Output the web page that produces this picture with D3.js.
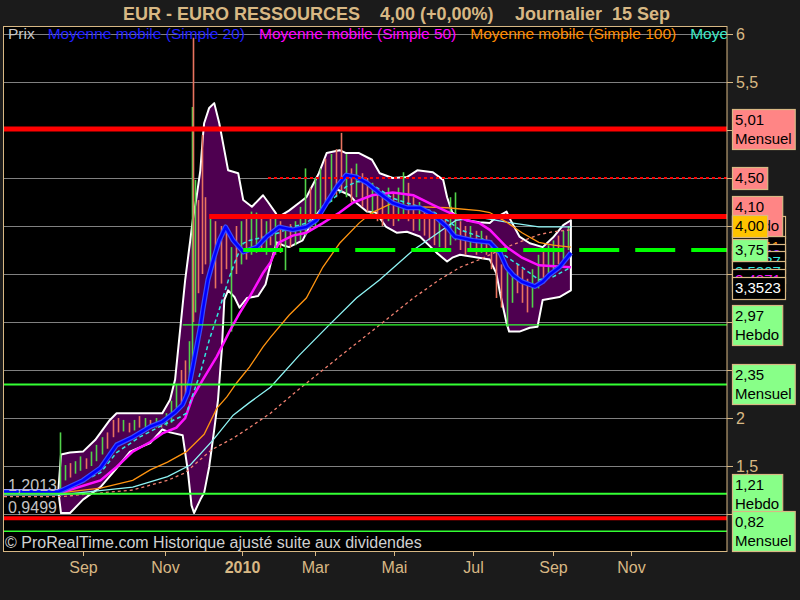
<!DOCTYPE html>
<html><head><meta charset="utf-8">
<script src="https://cdn.jsdelivr.net/npm/d3@7"></script>
<style>html,body{margin:0;padding:0;background:#1b1b1b;}svg{display:block;font-family:"Liberation Sans",Arial,sans-serif;}</style>
</head><body><svg id="c" width="800" height="600"></svg>
<script>
// ================= DATA =================
const titleParts = ["EUR - EURO RESSOURCES", "4,00 (+0,00%)", "Journalier  15 Sep"];
const legendNames = ["Prix","Moyenne mobile (Simple 20)","Moyenne mobile (Simple 50)","Moyenne mobile (Simple 100)","Moyenne mobile (Simple 200)"];
const monthLabels = ["Sep","Nov","2010","Mar","Mai","Jul","Sep","Nov"];
const monthDates = ["2009-09-01","2009-11-01","2010-01-01","2010-03-01","2010-05-01","2010-07-01","2010-09-01","2010-11-01"];
const priceTicks = [1,1.5,2,2.5,3,3.5,4,4.5,5,5.5,6];

const barDates = ["2009-08-14","2009-08-18","2009-08-22","2009-08-26","2009-08-30","2009-09-03","2009-09-07","2009-09-11","2009-09-15","2009-09-19","2009-09-23","2009-09-27","2009-10-01","2009-10-05","2009-10-09","2009-10-13","2009-10-17","2009-10-21","2009-10-25","2009-10-29","2009-11-02","2009-11-06","2009-11-10","2009-11-14","2009-11-17","2009-11-20","2009-11-22","2009-11-23","2009-11-25","2009-11-27","2009-11-30","2009-12-03","2009-12-07","2009-12-11","2009-12-15","2009-12-19","2009-12-23","2009-12-27","2009-12-31","2010-01-04","2010-01-08","2010-01-12","2010-01-16","2010-01-20","2010-01-24","2010-01-28","2010-02-01","2010-02-05","2010-02-09","2010-02-13","2010-02-17","2010-02-21","2010-02-25","2010-03-01","2010-03-05","2010-03-09","2010-03-13","2010-03-17","2010-03-21","2010-03-25","2010-03-29","2010-04-02","2010-04-06","2010-04-10","2010-04-14","2010-04-18","2010-04-22","2010-04-26","2010-04-30","2010-05-04","2010-05-08","2010-05-12","2010-05-16","2010-05-20","2010-05-24","2010-05-28","2010-06-01","2010-06-05","2010-06-09","2010-06-13","2010-06-17","2010-06-21","2010-06-25","2010-06-29","2010-07-03","2010-07-07","2010-07-11","2010-07-15","2010-07-19","2010-07-23","2010-07-27","2010-07-31","2010-08-04","2010-08-08","2010-08-12","2010-08-16","2010-08-20","2010-08-24","2010-08-28","2010-09-01","2010-09-05","2010-09-09","2010-09-13"];
const barHigh = [1.85,1.51,1.53,1.55,1.60,1.58,1.65,1.72,1.80,1.85,1.98,2.00,1.98,1.95,1.98,2.02,2.00,1.98,2.00,1.98,2.05,2.18,2.35,2.50,2.60,2.80,5.24,5.96,4.48,4.27,4.95,4.30,4.08,4.05,4.00,3.95,3.78,4.00,4.05,4.10,4.15,4.14,4.12,4.05,4.10,4.08,4.05,4.00,4.02,4.05,4.20,4.60,4.40,4.50,4.60,4.70,4.75,4.80,4.97,4.75,4.60,4.65,4.55,4.50,4.45,4.40,4.35,4.40,4.35,4.40,4.56,4.45,4.30,4.25,4.20,4.15,4.10,4.05,4.10,4.30,4.35,4.05,4.00,4.00,3.95,3.95,3.90,3.85,3.75,3.60,3.55,3.50,3.60,3.55,3.45,3.55,3.70,3.75,3.80,3.85,3.90,3.95,4.00];
const barLow = [1.23,1.35,1.38,1.42,1.45,1.47,1.50,1.55,1.62,1.68,1.80,1.85,1.86,1.85,1.87,1.90,1.90,1.89,1.90,1.90,1.92,1.95,2.10,2.15,2.20,2.40,2.60,3.00,3.10,3.30,3.50,3.60,3.60,3.35,3.40,3.55,2.90,3.50,3.60,3.65,3.70,3.72,3.75,3.70,3.80,3.70,3.72,3.54,3.78,3.80,3.85,3.90,3.95,4.00,4.10,4.20,4.25,4.30,4.35,4.30,4.25,4.30,4.20,4.15,4.10,4.05,4.00,4.05,4.00,4.05,4.10,4.05,3.95,3.95,3.90,3.85,3.80,3.78,3.75,3.80,3.85,3.75,3.70,3.75,3.70,3.72,3.70,3.55,3.25,3.15,2.95,3.20,3.30,3.20,3.10,3.15,3.35,3.45,3.50,3.55,3.60,3.65,3.75];
const barUp = [1,1,0,1,1,0,1,1,1,0,0,0,1,0,1,0,1,0,1,0,1,1,1,0,0,1,1,0,1,0,0,0,1,0,0,0,1,0,1,0,1,1,0,1,0,1,0,1,0,1,1,1,0,1,1,0,1,0,0,1,0,1,0,0,1,0,0,1,0,1,1,0,0,1,0,0,0,1,0,1,1,0,0,1,0,1,0,0,0,0,1,1,0,0,0,1,1,0,1,1,0,1,1];

const bandUpper = [["2009-07-02",1.25],["2009-08-13",1.25],["2009-08-15",1.62],["2009-08-22",1.64],["2009-09-01",1.65],["2009-09-10",1.77],["2009-09-21",1.98],["2009-09-26",2.05],["2009-10-13",2.05],["2009-10-30",2.05],["2009-11-05",2.19],["2009-11-09",2.40],["2009-11-13",2.92],["2009-11-17",3.44],["2009-11-21",3.85],["2009-11-23",4.06],["2009-11-26",4.30],["2009-11-29",4.58],["2009-12-01",4.93],["2009-12-02",5.07],["2009-12-06",5.23],["2009-12-10",5.28],["2009-12-14",5.07],["2009-12-17",4.86],["2009-12-21",4.58],["2009-12-29",4.55],["2010-01-02",4.27],["2010-01-09",4.20],["2010-01-18",4.32],["2010-01-22",4.25],["2010-01-28",4.14],["2010-01-30",4.09],["2010-02-08",4.16],["2010-02-16",4.24],["2010-02-22",4.30],["2010-03-04",4.55],["2010-03-10",4.76],["2010-03-20",4.79],["2010-03-25",4.76],["2010-04-04",4.76],["2010-04-14",4.69],["2010-04-20",4.55],["2010-04-30",4.50],["2010-05-11",4.51],["2010-05-19",4.58],["2010-05-31",4.56],["2010-06-08",4.48],["2010-06-11",4.30],["2010-06-15",4.14],["2010-06-26",4.06],["2010-07-06",4.04],["2010-07-14",4.03],["2010-07-19",4.09],["2010-07-27",4.15],["2010-07-29",4.09],["2010-08-06",3.89],["2010-08-14",3.82],["2010-08-24",3.78],["2010-09-01",3.88],["2010-09-09",4.01],["2010-09-15",4.06]];
const bandLower = [["2009-07-02",1.23],["2009-08-13",1.23],["2009-08-15",1.01],["2009-08-22",1.01],["2009-09-01",1.15],["2009-09-14",1.28],["2009-09-25",1.46],["2009-10-06",1.65],["2009-10-21",1.74],["2009-10-30",1.88],["2009-11-05",1.85],["2009-11-15",1.82],["2009-11-19",1.46],["2009-11-22",1.09],["2009-11-24",1.01],["2009-11-29",1.15],["2009-12-02",1.22],["2009-12-06",1.49],["2009-12-10",1.88],["2009-12-13",2.19],["2009-12-16",2.71],["2009-12-18",3.23],["2009-12-21",3.33],["2009-12-26",3.26],["2009-12-30",3.15],["2010-01-05",3.25],["2010-01-14",3.27],["2010-01-20",3.39],["2010-01-25",3.65],["2010-01-29",3.83],["2010-02-03",3.80],["2010-02-08",3.78],["2010-02-19",3.85],["2010-02-27",4.06],["2010-03-04",4.15],["2010-03-18",4.38],["2010-03-28",4.32],["2010-04-02",4.24],["2010-04-10",4.15],["2010-04-17",4.14],["2010-04-25",3.99],["2010-05-03",3.93],["2010-05-11",3.94],["2010-05-21",3.89],["2010-06-03",3.72],["2010-06-11",3.63],["2010-06-15",3.67],["2010-06-21",3.70],["2010-07-14",3.65],["2010-07-19",3.51],["2010-07-22",3.30],["2010-07-27",2.99],["2010-07-29",2.90],["2010-08-06",2.90],["2010-08-14",2.94],["2010-08-20",2.95],["2010-08-24",3.23],["2010-09-06",3.26],["2010-09-15",3.33]];

const sma20 = [["2009-07-02",1.23],["2009-08-13",1.23],["2009-09-01",1.35],["2009-09-14",1.48],["2009-09-26",1.72],["2009-10-08",1.80],["2009-10-21",1.91],["2009-10-30",1.96],["2009-11-09",2.06],["2009-11-15",2.14],["2009-11-19",2.26],["2009-11-23",2.53],["2009-11-29",2.95],["2009-12-01",3.13],["2009-12-05",3.44],["2009-12-10",3.68],["2009-12-14",3.85],["2009-12-19",3.99],["2009-12-25",3.85],["2010-01-02",3.73],["2010-01-13",3.78],["2010-01-21",3.89],["2010-01-31",3.99],["2010-02-11",3.96],["2010-02-22",3.99],["2010-03-02",4.06],["2010-03-10",4.24],["2010-03-18",4.41],["2010-03-25",4.53],["2010-04-02",4.51],["2010-04-10",4.45],["2010-04-20",4.34],["2010-04-30",4.24],["2010-05-11",4.19],["2010-05-21",4.19],["2010-05-31",4.12],["2010-06-11",3.99],["2010-06-17",3.89],["2010-07-01",3.85],["2010-07-14",3.83],["2010-07-22",3.72],["2010-07-27",3.57],["2010-08-01",3.49],["2010-08-08",3.42],["2010-08-18",3.37],["2010-08-24",3.42],["2010-08-29",3.49],["2010-09-06",3.57],["2010-09-15",3.72]];
const maCyan = [["2009-07-02",1.23],["2009-08-13",1.23],["2009-09-14",1.43],["2009-09-26",1.64],["2009-10-13",1.80],["2009-10-28",1.91],["2009-11-13",2.01],["2009-11-18",2.05],["2009-11-29",2.47],["2009-12-06",2.81],["2009-12-14",3.13],["2009-12-22",3.47],["2009-12-28",3.68],["2010-01-02",3.82],["2010-01-07",3.85],["2010-01-21",3.89],["2010-01-31",3.93],["2010-02-08",3.98],["2010-02-22",4.03],["2010-03-04",4.14],["2010-03-14",4.27],["2010-03-25",4.41],["2010-04-02",4.46],["2010-04-10",4.46],["2010-04-20",4.38],["2010-04-30",4.29],["2010-05-11",4.24],["2010-05-21",4.20],["2010-05-31",4.15],["2010-06-11",4.06],["2010-06-21",3.96],["2010-07-06",3.89],["2010-07-27",3.68],["2010-08-08",3.57],["2010-08-21",3.44],["2010-09-01",3.47],["2010-09-15",3.57]];
const sma50 = [["2009-07-02",1.21],["2009-08-14",1.22],["2009-09-14",1.35],["2009-09-26",1.49],["2009-10-08",1.65],["2009-10-21",1.75],["2009-10-30",1.84],["2009-11-10",1.90],["2009-11-17",2.00],["2009-11-23",2.22],["2009-12-01",2.40],["2009-12-12",2.64],["2009-12-22",2.90],["2009-12-30",3.09],["2010-01-07",3.26],["2010-01-18",3.51],["2010-01-24",3.62],["2010-01-31",3.83],["2010-02-11",3.90],["2010-02-22",3.93],["2010-03-07",4.03],["2010-03-20",4.14],["2010-03-30",4.24],["2010-04-14",4.32],["2010-04-30",4.35],["2010-05-16",4.32],["2010-05-31",4.22],["2010-06-11",4.15],["2010-06-26",4.06],["2010-07-06",4.03],["2010-07-14",3.96],["2010-07-27",3.78],["2010-08-08",3.67],["2010-08-21",3.59],["2010-09-15",3.57]];
const sma100 = [["2009-07-02",1.21],["2009-08-14",1.22],["2009-09-14",1.27],["2009-10-08",1.35],["2009-10-21",1.46],["2009-11-03",1.54],["2009-11-18",1.65],["2009-12-02",1.83],["2009-12-12",2.10],["2009-12-20",2.22],["2009-12-28",2.37],["2010-01-07",2.53],["2010-01-18",2.74],["2010-01-24",2.84],["2010-02-08",3.07],["2010-02-22",3.25],["2010-03-07",3.57],["2010-03-20",3.82],["2010-04-04",4.03],["2010-04-14",4.14],["2010-04-30",4.24],["2010-05-16",4.19],["2010-05-23",4.20],["2010-06-11",4.19],["2010-07-06",4.16],["2010-07-14",4.14],["2010-07-27",4.04],["2010-08-08",3.93],["2010-08-21",3.83],["2010-09-01",3.80],["2010-09-15",3.78]];
const maPaleCyan = [["2009-07-02",1.20],["2009-08-14",1.20],["2009-10-08",1.28],["2009-11-03",1.39],["2009-11-21",1.51],["2009-12-09",1.77],["2009-12-25",2.03],["2010-01-07",2.16],["2010-01-24",2.32],["2010-02-16",2.65],["2010-03-12",2.97],["2010-04-02",3.25],["2010-04-20",3.44],["2010-05-16",3.75],["2010-05-31",3.89],["2010-06-18",4.06],["2010-07-06",4.09],["2010-07-27",4.04],["2010-08-21",3.99],["2010-09-15",3.99]];
const maSalmon = [["2009-07-02",1.18],["2009-08-14",1.18],["2009-10-08",1.25],["2009-11-03",1.35],["2009-11-17",1.43],["2009-12-08",1.67],["2009-12-25",1.79],["2010-01-07",1.90],["2010-01-24",2.05],["2010-02-16",2.30],["2010-03-20",2.64],["2010-04-20",2.97],["2010-05-16",3.25],["2010-06-05",3.44],["2010-06-21",3.57],["2010-07-06",3.65],["2010-07-27",3.78],["2010-08-21",3.91],["2010-09-01",3.94],["2010-09-15",3.96]];

const levelValues = [5.01, 4.50, 4.10, 3.75, 2.97, 2.35, 1.21, 0.955, 0.82];
const levelStarts = [null, "2010-01-22", "2009-12-06", "2010-01-02", "2009-11-15", null, null, null, null];
const levelLabels = ["5,01", "4,50", "4,10", "3,75", "2,97", "2,35", "1,21", null, "0,82"];
const levelPeriods = ["Mensuel", "", "Hebdo", "", "Hebdo", "Mensuel", "Hebdo", "", "Mensuel"];
const lastPrice = 4.00, lastPriceLabel = "4,00";
const indicatorValues = [3.9917, 3.7811, 3.6943, 3.6287, 3.5207, 3.4371, 3.3523];
const hiLoValues = [1.2013, 0.9499];
const copyright = "© ProRealTime.com Historique ajusté suite aux dividendes";

// ================= DRAW =================
const svg = d3.select("#c");
const P = {l:4, t:26, r:727, b:551};
const TAN = "#d8b884";
const parse = d3.timeParse("%Y-%m-%d");
const fmt = v => (Number.isInteger(v) ? String(v) : v.toFixed(1)).replace(".", ",");

svg.append("rect").attr("width",800).attr("height",600).attr("fill","#1b1b1b");
svg.append("rect").attr("x",P.l).attr("y",P.t).attr("width",P.r-P.l).attr("height",P.b-P.t).attr("fill","#000");

const x = d3.scaleTime()
  .domain(["2009-07-02","2009-09-01","2009-11-01","2010-01-01","2010-03-01","2010-05-01","2010-07-01","2010-09-01","2010-11-01","2011-01-15"].map(parse))
  .range([4,83,165,242,315,394,473,553,631,727]);
const y = d3.scaleLinear().domain([1,6]).range([514,34]);

svg.append("clipPath").attr("id","clip").append("rect")
  .attr("x",P.l).attr("y",P.t).attr("width",P.r-P.l).attr("height",P.b-P.t);
const g = svg.append("g").attr("clip-path","url(#clip)");

// gridlines
g.selectAll(".grid").data(priceTicks).enter().append("line")
  .attr("x1",P.l).attr("x2",P.r).attr("y1",d=>y(d)+0.5).attr("y2",d=>y(d)+0.5)
  .attr("stroke","#808080").attr("stroke-width",1);

// bollinger band
const pts = bandUpper.map(d=>[x(parse(d[0])), y(d[1])])
  .concat(bandLower.slice().reverse().map(d=>[x(parse(d[0])), y(d[1])]));
g.append("path").attr("d", d3.line()(pts)+"Z")
  .attr("fill","#4e0050").attr("stroke","#fff").attr("stroke-width",2).attr("stroke-linejoin","round");

// bars
g.selectAll(".bar").data(barDates).enter().append("line")
  .attr("x1",(d)=>Math.round(x(parse(d)))+0.5).attr("x2",(d)=>Math.round(x(parse(d)))+0.5)
  .attr("y1",(d,i)=>y(barHigh[i])).attr("y2",(d,i)=>y(barLow[i]))
  .attr("stroke",(d,i)=>barUp[i] ? "#52d24a" : "#e8735f").attr("stroke-width",1.6);

// moving averages
const line = d3.line().x(d=>x(parse(d[0]))).y(d=>y(d[1]));
g.append("path").attr("d",line(maSalmon)).attr("fill","none").attr("stroke","#f08070").attr("stroke-width",1.3).attr("stroke-dasharray","3,3");
g.append("path").attr("d",line(maPaleCyan)).attr("fill","none").attr("stroke","#8ff5f5").attr("stroke-width",1.3);
g.append("path").attr("d",line(sma100)).attr("fill","none").attr("stroke","#ff9410").attr("stroke-width",1.3);
g.append("path").attr("d",line(sma50)).attr("fill","none").attr("stroke","#ff10ff").attr("stroke-width",2.5);
g.append("path").attr("d",line(maCyan)).attr("fill","none").attr("stroke","#30e8e0").attr("stroke-width",1.5).attr("stroke-dasharray","4,3");
g.append("path").attr("d",line(sma20)).attr("fill","none").attr("stroke","#3a4cff").attr("stroke-width",5).attr("stroke-linejoin","round");
g.append("path").attr("d",line(sma20)).attr("fill","none").attr("stroke","#0000ff").attr("stroke-width",2.6).attr("stroke-linejoin","round");

// horizontal levels
const levelStyle = [
  {c:"#ff0000", w:5}, {c:"#ff0000", w:2, dash:"3,3"}, {c:"#ff0000", w:5}, {c:"#00ff00", w:4, dash:"40,16"},
  {c:"#33ff33", w:1.3}, {c:"#33ff33", w:2}, {c:"#33ff33", w:2}, {c:"#ff0000", w:4}, {c:"#33ff33", w:1.5}
];
levelValues.forEach((v,i)=>{
  const st = levelStyle[i];
  const x1 = levelStarts[i] ? x(parse(levelStarts[i])) : P.l;
  const l = g.append("line").attr("x1",x1).attr("x2",P.r).attr("y1",y(v)).attr("y2",y(v))
    .attr("stroke",st.c).attr("stroke-width",st.w);
  if (st.dash) l.attr("stroke-dasharray",st.dash);
});

// legend
const legendColors = ["#c8c8c8","#2020ff","#ff00ff","#ff8c00","#3ce8c8"];
let lx = 8;
legendNames.forEach((n,i)=>{
  const t = g.append("text").attr("x",lx).attr("y",39).attr("font-size","15.5px")
    .attr("fill",legendColors[i]).text(n);
  lx += t.node().getComputedTextLength() + (i===0 ? 13 : 14);
});

// hi/lo labels
hiLoValues.forEach((v,i)=>{
  g.append("text").attr("x",8).attr("y", i===0 ? 491 : 513).attr("font-size","16px")
    .attr("fill","#c4c4c4").text(String(v).replace(".",","));
});

// copyright
g.append("text").attr("x",5).attr("y",548).attr("font-size","16px").attr("fill","#d0d0d0").text(copyright);

// border
svg.append("rect").attr("x",P.l-0.5).attr("y",P.t+0.5).attr("width",P.r-P.l+0.5).attr("height",P.b-P.t)
  .attr("fill","none").attr("stroke",TAN).attr("stroke-width",1);

// right axis
priceTicks.forEach(v=>{
  svg.append("line").attr("x1",P.r).attr("x2",P.r+6).attr("y1",y(v)+0.5).attr("y2",y(v)+0.5).attr("stroke",TAN);
  svg.append("text").attr("x",P.r+9).attr("y",y(v)).attr("dy","0.36em").attr("font-size","16px")
    .attr("fill",TAN).text(fmt(v));
});

// bottom axis
monthDates.forEach((d,i)=>{
  const xx = Math.round(x(parse(d)))+0.5;
  svg.append("line").attr("x1",xx).attr("x2",xx).attr("y1",P.b).attr("y2",P.b+5).attr("stroke",TAN);
  svg.append("text").attr("x",xx).attr("y",573).attr("text-anchor","middle").attr("font-size","16px")
    .attr("font-weight", monthLabels[i]==="2010" ? "bold" : "normal").attr("fill",TAN).text(monthLabels[i]);
});

// right-side value boxes
function box(v, lines, fill, color, minW){
  const h = lines.length > 1 ? 40 : 22;
  const gg = svg.append("g");
  const r = gg.append("rect").attr("x",P.r+5.5).attr("y",Math.round(y(v)-h/2)+0.5).attr("height",h)
    .attr("fill",fill).attr("stroke",TAN).attr("stroke-width",1.2);
  let w = 0;
  lines.forEach((s,k)=>{
    const t = gg.append("text").attr("x",P.r+8).attr("y",Math.round(y(v)-h/2)+16+k*19)
      .attr("font-size","15px").attr("fill",color).text(s);
    w = Math.max(w, t.node().getComputedTextLength());
  });
  r.attr("width",Math.max(minW||0, w+6));
}
const indColors = ["#8ff5f5","#ff9410","#9a30ff","#30e8e0","#30e8e0","#ff10ff","#ffffff"];
indicatorValues.forEach((v,i)=>{
  box(v, [v.toFixed(4).replace(".",",")], "#000", indColors[i], 53);
});
levelValues.forEach((v,i)=>{
  if (!levelLabels[i]) return;
  const lines = levelPeriods[i] ? [levelLabels[i], levelPeriods[i]] : [levelLabels[i]];
  box(v, lines, v > lastPrice ? "#ff8585" : "#88ff88", "#000");
});
box(lastPrice, [lastPriceLabel], "#ffc400", "#000");

// title
const tx = [123, 380, 515];
titleParts.forEach((s,i)=>{
  svg.append("text").attr("x",tx[i]).attr("y",20).attr("font-size","18px").attr("font-weight","bold")
    .attr("fill",TAN).style("white-space","pre").text(s);
});
</script></body></html>
